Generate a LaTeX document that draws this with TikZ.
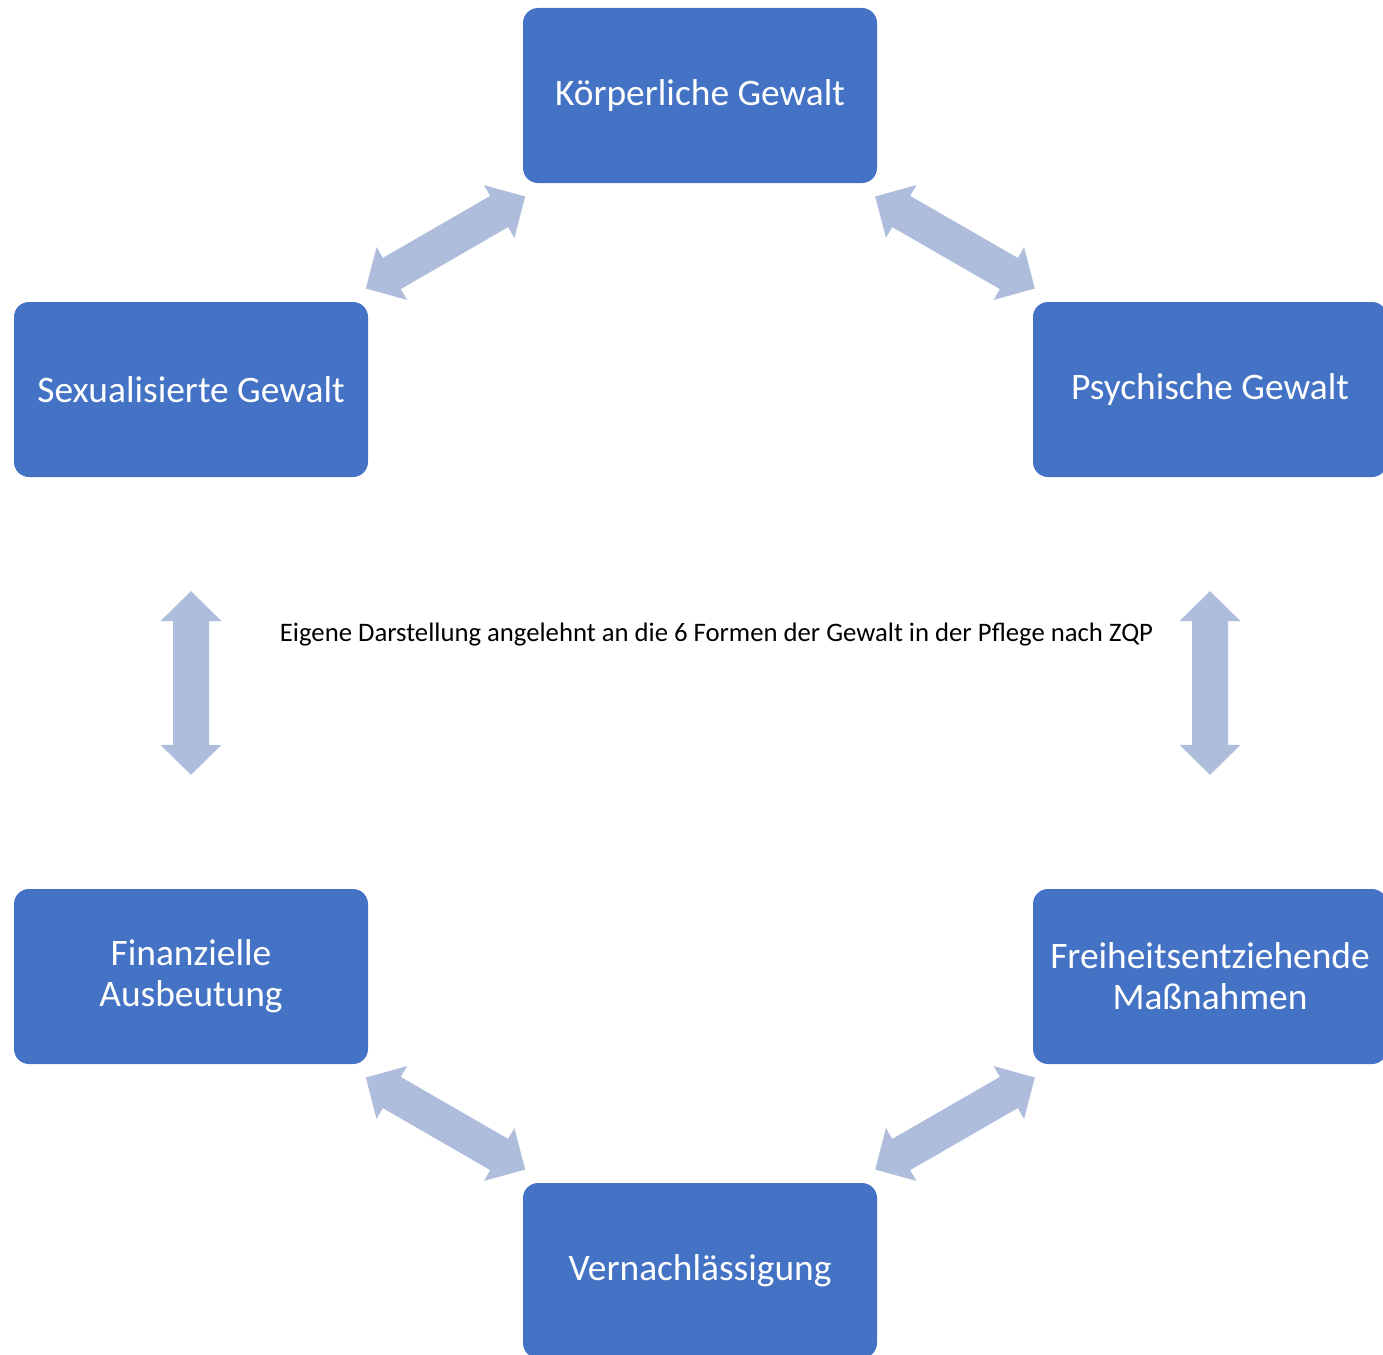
\documentclass[tikz,border=0pt]{standalone}
\usepackage{fontspec}
\setmainfont{Carlito}
\usepackage{xcolor}
\usetikzlibrary{calc,positioning}
\definecolor{boxblue}{RGB}{68,114,196}
\definecolor{arrowblue}{RGB}{175,189,221}
\newcommand{\cyclearrow}[2]{%
    \coordinate (#1-#2-s) at ($(#1)!0.3435!(#2)$);
    \coordinate (#1-#2-e) at ($(#1)!0.6565!(#2)$);
    \coordinate (#1-#2-a) at ($(#1-#2-s)!30pt!(#1-#2-e)$);
    \coordinate (#1-#2-b) at ($(#1-#2-e)!30pt!(#1-#2-s)$);
    \fill[arrowblue] (#1-#2-s) -- ($(#1-#2-a)!30.5pt!90:(#1-#2-e)$) -- ($(#1-#2-a)!18pt!90:(#1-#2-e)$)
        -- ($(#1-#2-b)!18pt!-90:(#1-#2-s)$) -- ($(#1-#2-b)!30.5pt!-90:(#1-#2-s)$) -- (#1-#2-e)
        -- ($(#1-#2-b)!30.5pt!90:(#1-#2-s)$) -- ($(#1-#2-b)!18pt!90:(#1-#2-s)$)
        -- ($(#1-#2-a)!18pt!-90:(#1-#2-e)$) -- ($(#1-#2-a)!30.5pt!-90:(#1-#2-e)$) -- cycle;
}

\begin{document}
\begin{tikzpicture}[
            x=1pt, y=-1pt,
            formbox/.style = {rectangle,
                rounded corners=15pt,
                fill=boxblue,
                text=white,
                font=\fontsize{37.4}{41}\selectfont,
                inner sep=0pt,
                minimum width=354pt,
                minimum height=175pt,
                align=center,
            }
        ]
            \clip (0,0) rectangle (1383,1354);
            \node[formbox] (koerper) at (700,95.5) {Körperliche Gewalt};
            \node[formbox] (psych) at (1210,389.5) {Psychische Gewalt};
            \node[formbox] (freiheit) at (1210,976.5) {Freiheitsentziehende\\Maßnahmen};
            \node[formbox] (vernach) at (700,1270.5) {Vernachlässigung};
            \node[formbox] (finanz) at (191,976.5) {Finanzielle\\Ausbeutung};
            \node[formbox] (sexual) at (191,389.5) {Sexualisierte Gewalt};
            \cyclearrow{sexual}{koerper}
            \cyclearrow{koerper}{psych}
            \cyclearrow{psych}{freiheit}
            \cyclearrow{freiheit}{vernach}
            \cyclearrow{vernach}{finanz}
            \cyclearrow{finanz}{sexual}
            \node[font=\fontsize{26.7}{32}\selectfont] (note) at (716.5,635) {Eigene Darstellung angelehnt an die 6 Formen der Gewalt in der Pflege nach ZQP};
        \end{tikzpicture}
\end{document}
